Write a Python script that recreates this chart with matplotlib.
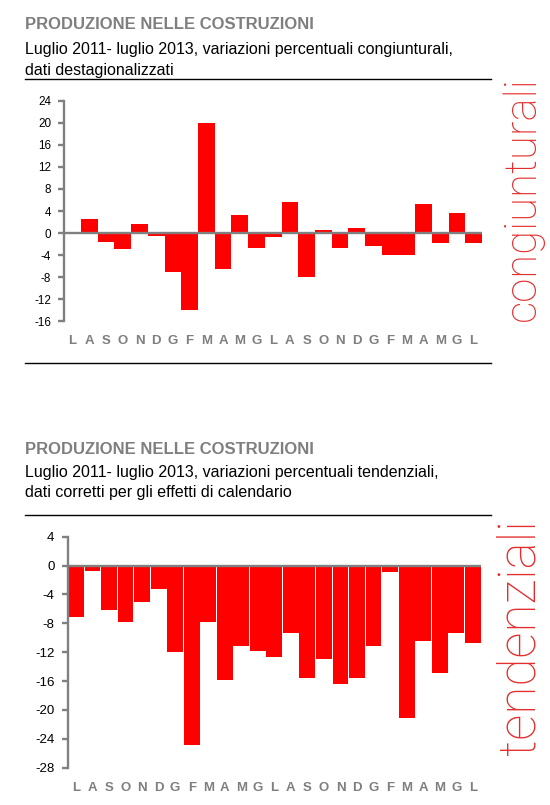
import matplotlib
matplotlib.use("Agg")
import matplotlib.pyplot as plt
from matplotlib.lines import Line2D

# Dati: luglio 2011 - luglio 2013
mesi = ["L", "A", "S", "O", "N", "D", "G", "F", "M", "A", "M", "G",
        "L", "A", "S", "O", "N", "D", "G", "F", "M", "A", "M", "G", "L"]

congiunturali = [0.0, 2.5, -1.7, -2.8, 1.6, -0.5, -7.0, -13.9, 20.0, -6.5, 3.2, -2.7,
                 -0.7, 5.7, -7.9, 0.5, -2.7, 0.9, -2.3, -3.9, -3.9, 5.2, -1.8, 3.6, -1.8]

tendenziali = [-7.1, -0.8, -6.1, -7.8, -5.0, -3.2, -12.0, -24.8, -7.8, -15.9, -11.1, -11.8,
               -12.6, -9.3, -15.6, -13.0, -16.4, -15.6, -11.1, -0.9, -21.1, -10.4, -14.9, -9.4, -10.7]

yticks_cong = list(range(24, -17, -4))
yticks_tend = list(range(4, -29, -4))

W, H = 550, 805
GRIGIO = "#808080"
ROSSO = "#ff0000"
SANS = ["Liberation Sans", "DejaVu Sans"]

fig = plt.figure(figsize=(W / 100, H / 100), dpi=100)


def fy(y):
    return 1 - y / H


def intestazione(y_tit, y_sub1, y_sub2, y_riga, sub1, sub2):
    fig.text(24.6 / W, fy(y_tit), "PRODUZIONE NELLE COSTRUZIONI", family=SANS,
             fontsize=12.0, fontweight="bold", color="#7f7f7f", va="baseline")
    fig.text(24.6 / W, fy(y_sub1), sub1, family=SANS, fontsize=11.5, color="black", va="baseline")
    fig.text(24.6 / W, fy(y_sub2), sub2, family=SANS, fontsize=11.5, color="black", va="baseline")
    fig.add_artist(Line2D([24.6 / W, 491 / W], [fy(y_riga), fy(y_riga)], color="black", lw=1.0))


def grafico(left, right, top, bottom, valori, yticks, larghezza, fs_tick):
    ax = fig.add_axes([left / W, fy(bottom), (right - left) / W, (bottom - top) / H])
    x = list(range(len(valori)))
    ax.bar(x, valori, width=larghezza, color=ROSSO, zorder=2)
    ax.axhline(0, color=GRIGIO, lw=1.7, zorder=3)
    ax.set_xlim(-0.5, len(valori) - 0.5)
    ax.set_ylim(yticks[-1], yticks[0])
    ax.set_yticks(yticks)
    ax.set_yticklabels([str(t) for t in yticks], family=SANS, fontsize=fs_tick)
    ax.set_xticks(x)
    ax.set_xticklabels(mesi, family=SANS, fontsize=9.5, fontweight="bold", color="#7f7f7f")
    for s in ["top", "right", "bottom"]:
        ax.spines[s].set_visible(False)
    ax.spines["left"].set_color(GRIGIO)
    ax.spines["left"].set_linewidth(1.7)
    ax.tick_params(axis="y", direction="out", length=4, width=1.7, color=GRIGIO, pad=5.5)
    ax.tick_params(axis="x", length=0, pad=10)
    return ax


# Primo pannello
intestazione(29.3, 54.3, 75, 79.3,
             "Luglio 2011- luglio 2013, variazioni percentuali congiunturali,",
             "dati destagionalizzati")
grafico(64.3, 482, 100.7, 321.3, congiunturali, yticks_cong, 1.0, 8.4)
fig.add_artist(Line2D([24.6 / W, 491 / W], [fy(363.3), fy(363.3)], color="black", lw=1.0))
fig.text(523 / W, fy(199), "congiunturali", rotation=90, ha="center", va="center",
         family=["Roboto", "DejaVu Sans"], fontweight="light", fontsize=31.5, color="#e42c2c")

# Secondo pannello
intestazione(454, 477.3, 497.3, 515,
             "Luglio 2011- luglio 2013, variazioni percentuali tendenziali,",
             "dati corretti per gli effetti di calendario")
grafico(67.7, 481, 536.7, 767.7, tendenziali, yticks_tend, 0.96, 9.6)
fig.text(521 / W, fy(637.5), "tendenziali", rotation=90, ha="center", va="center",
         family=["Roboto", "DejaVu Sans"], fontweight="light", fontsize=37, color="#e42c2c")

fig.savefig("out.png", dpi=100)
